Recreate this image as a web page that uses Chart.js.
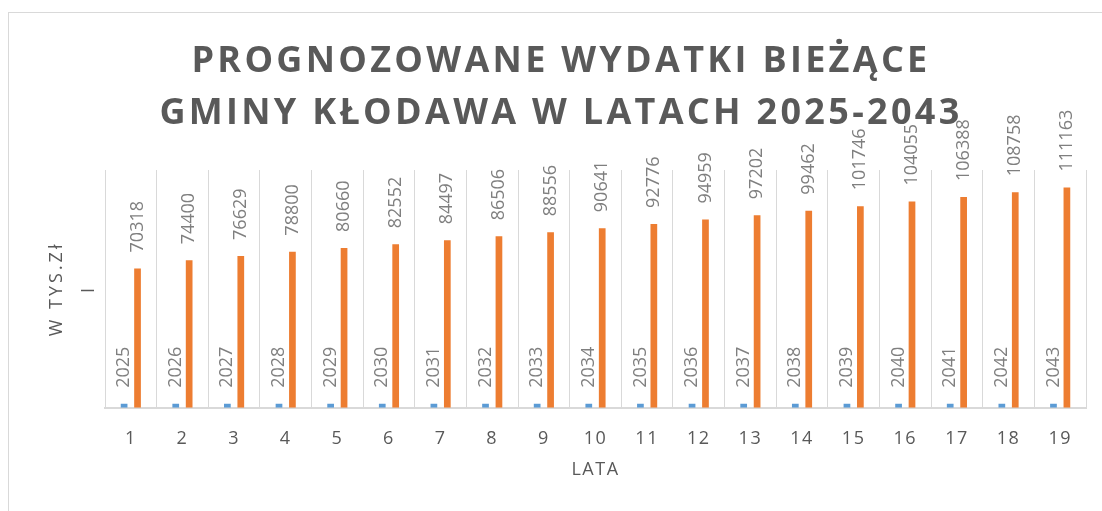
<!DOCTYPE html>
<html>
<head>
<meta charset="utf-8">
<script src="https://cdn.jsdelivr.net/npm/chart.js@4.4.0/dist/chart.umd.min.js"></script>
<style>
    html, body { margin: 0; padding: 0; background: #ffffff; overflow: hidden; }
    #frame { position: absolute; left: 8px; top: 12px; width: 1200px; height: 600px; border: 1px solid #d9d9d9; }
    #chart { position: absolute; left: 0; top: 0; }
</style>
</head>
<body>
<div id="frame"></div>
<canvas id="chart" width="1102" height="511"></canvas>
<script>
const CATEGORIES = ['1', '2', '3', '4', '5', '6', '7', '8', '9', '10', '11', '12', '13', '14', '15', '16', '17', '18', '19'];
const YEARS = [2025, 2026, 2027, 2028, 2029, 2030, 2031, 2032, 2033, 2034, 2035, 2036, 2037, 2038, 2039, 2040, 2041, 2042, 2043];
const EXPENSES = [70318, 74400, 76629, 78800, 80660, 82552, 84497, 86506, 88556, 90641, 92776, 94959, 97202, 99462, 101746, 104055, 106388, 108758, 111163];

const TITLE_LINES = ['PROGNOZOWANE WYDATKI BIEŻĄCE', 'GMINY KŁODAWA W LATACH 2025-2043'];
const Y_TITLE = ['W TYS.Zł', 'I'];
const X_TITLE = 'LATA';

const SERIES_COLORS = {
    years: '#5b9bd5',
    expenses: '#ed7d31'
};

const TEXT_COLOR = '#595959';
const LABEL_COLOR = '#7f7f7f';
const GRID_COLOR = '#d9d9d9';
const FONT_FAMILY = '"Open Sans", "DejaVu Sans", sans-serif';

// canvas letterSpacing around one of chart.js' own draw methods
function wrapDraw(chart, target, method, spacing, dx) {
    if (!target || target['_spaced_' + method]) {
        return;
    }
    const original = target[method];
    target[method] = function () {
        const ctx = chart.ctx;
        ctx.save();
        ctx.letterSpacing = spacing;
        ctx.translate(dx, 0);
        original.apply(this, arguments);
        ctx.restore();
    };
    target['_spaced_' + method] = true;
}

// Excel-like spaced text; title shifted to the centre of the whole (cropped) chart area
const spacedText = {
    id: 'spacedText',
    beforeDraw(chart) {
        wrapDraw(chart, chart.titleBlock, 'draw', '3.3px', 13);
        wrapDraw(chart, chart.scales.x, 'drawLabels', '1.5px', 0);
        wrapDraw(chart, chart.scales.x, 'drawTitle', '1.5px', 0);
        wrapDraw(chart, chart.scales.y, 'drawTitle', '3px', 0);
    }
};

// rotated value labels above each bar
const barValueLabels = {
    id: 'barValueLabels',
    afterDatasetsDraw(chart) {
        const ctx = chart.ctx;
        ctx.save();
        ctx.font = `18px ${FONT_FAMILY}`;
        ctx.fillStyle = LABEL_COLOR;
        ctx.textAlign = 'left';
        ctx.textBaseline = 'middle';
        chart.data.datasets.forEach((dataset, di) => {
            chart.getDatasetMeta(di).data.forEach((bar, i) => {
                ctx.save();
                ctx.translate(bar.x, bar.y - 16);
                ctx.rotate(-Math.PI / 2);
                ctx.fillText(String(dataset.data[i]), 0, 0);
                ctx.restore();
            });
        });
        ctx.restore();
    }
};

new Chart(document.getElementById('chart'), {
    type: 'bar',
    data: {
        labels: CATEGORIES,
        datasets: [
            {
                label: 'Rok',
                data: YEARS,
                backgroundColor: SERIES_COLORS.years,
                categoryPercentage: 0.52,
                barPercentage: 0.5
            },
            {
                label: 'Wydatki bieżące',
                data: EXPENSES,
                backgroundColor: SERIES_COLORS.expenses,
                categoryPercentage: 0.52,
                barPercentage: 0.5
            }
        ]
    },
    options: {
        responsive: false,
        animation: false,
        layout: {
            padding: { top: 14, left: 10, right: 16, bottom: 20 }
        },
        scales: {
            x: {
                grid: {
                    display: true,
                    color: GRID_COLOR,
                    lineWidth: 1,
                    drawTicks: false,
                    offset: true
                },
                border: { display: true, color: GRID_COLOR, width: 2 },
                ticks: {
                    color: TEXT_COLOR,
                    padding: 20,
                    font: { family: FONT_FAMILY, size: 18 }
                },
                title: {
                    display: true,
                    text: X_TITLE,
                    color: TEXT_COLOR,
                    font: { family: FONT_FAMILY, size: 18, lineHeight: 1.2 },
                    padding: { top: -10, bottom: 10 }
                }
            },
            y: {
                min: 0,
                max: 120000,
                grid: { display: false, drawTicks: false },
                border: { display: false },
                ticks: { display: false },
                title: {
                    display: true,
                    text: Y_TITLE,
                    color: TEXT_COLOR,
                    font: { family: FONT_FAMILY, size: 18, lineHeight: 32 / 18 },
                    padding: { top: 31, bottom: 0 }
                }
            }
        },
        plugins: {
            legend: { display: false },
            tooltip: { enabled: false },
            title: {
                display: true,
                text: TITLE_LINES,
                color: TEXT_COLOR,
                font: { family: FONT_FAMILY, size: 36, weight: 'bold', lineHeight: 52 / 36 },
                padding: { top: 22, bottom: 30 }
            }
        }
    },
    plugins: [spacedText, barValueLabels]
});
</script>
</body>
</html>
